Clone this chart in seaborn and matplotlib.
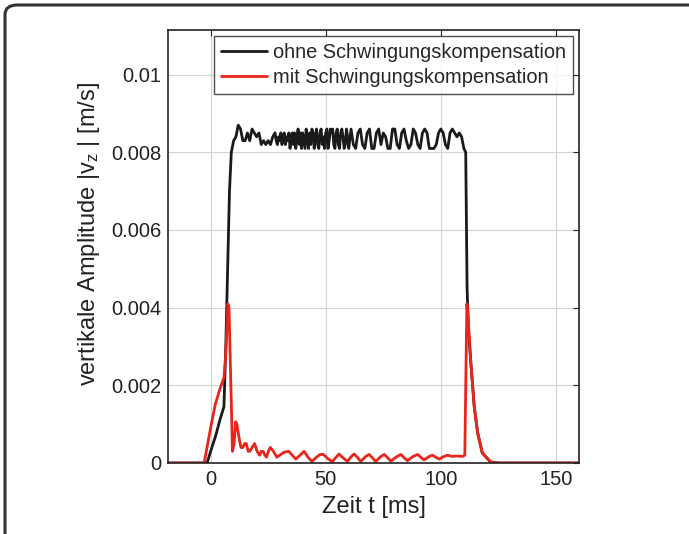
import matplotlib
matplotlib.use("Agg")
import matplotlib.pyplot as plt
import seaborn as sns
from matplotlib.patches import FancyBboxPatch

# ---- data ----
t_ohne = [-20, -1.5, 0, 2.2, 4, 5.8, 6.6, 7.4, 8.2, 9,
          10, 11, 12, 13, 14, 15, 16, 17, 18, 19, 20, 21, 22, 23, 24, 25, 26, 27,
          28, 28.5, 29, 29.5, 30, 30.5, 31, 31.5, 32, 32.5, 33, 33.5, 34, 34.5, 35, 35.5,
          36, 36.5, 37, 37.5, 38, 38.5, 39, 39.5, 40, 40.5, 41, 41.5, 42, 42.5, 43, 43.5,
          44, 44.5, 45, 45.5, 46, 46.5, 47, 47.5, 48, 48.5, 49, 49.5, 50, 50.5, 51, 51.5,
          52, 52.5, 53, 53.5, 54, 54.5, 55, 55.5, 56, 56.5, 57, 57.5, 58, 58.5, 59, 59.5, 60,
          61, 62, 63, 64, 65, 66, 67, 68, 69,
          70, 71, 72, 73, 74, 75, 76, 77, 78, 79, 80, 81, 82, 83, 84, 85, 86, 87, 88, 89,
          90, 91, 92, 93, 94, 95, 96, 97, 98, 99, 100, 101, 102, 103, 104, 105, 106, 107, 108, 109,
          110, 110.8, 111.4, 112, 113, 114.5, 116, 118, 121.5, 125, 160]
v_ohne = [0, 0, 0.0003, 0.0007, 0.0011, 0.00145, 0.0030, 0.0050, 0.0070, 0.0080,
          0.0083, 0.0084, 0.0087, 0.0086, 0.0083, 0.0083, 0.0085, 0.0083, 0.0086, 0.0085,
          0.0084, 0.0085, 0.0082, 0.0083, 0.0082, 0.0083, 0.0082, 0.0084,
          0.0085, 0.0083, 0.0082, 0.0084, 0.0083, 0.0085, 0.0082, 0.0084, 0.0085, 0.0082,
          0.0084, 0.0083, 0.0085, 0.0081, 0.0084, 0.0085, 0.0082, 0.0085, 0.0081, 0.0084,
          0.0086, 0.0082, 0.0085, 0.0081, 0.0085, 0.0083, 0.0081, 0.0086, 0.0084, 0.0081,
          0.0085, 0.0082, 0.0086, 0.0085, 0.0081, 0.0084, 0.0086, 0.0082, 0.0081, 0.0085,
          0.0086, 0.0082, 0.0084, 0.0081, 0.0085, 0.0086, 0.0081, 0.0083, 0.0086, 0.0085,
          0.0086, 0.0082, 0.0081, 0.0085, 0.0086, 0.0082, 0.0081, 0.0085, 0.0086, 0.0084,
          0.0081, 0.0082, 0.0086, 0.0084, 0.0081,
          0.0086, 0.0082, 0.0081, 0.0085, 0.0086, 0.0082, 0.0081, 0.0085, 0.0086,
          0.0081, 0.0081, 0.0085, 0.0086, 0.0082, 0.0085, 0.0084, 0.0081, 0.0081, 0.0086,
          0.0086, 0.0082, 0.0081, 0.0085, 0.0086, 0.0083, 0.0081, 0.0082, 0.0086, 0.0085,
          0.0082, 0.0081, 0.0085, 0.0086, 0.0085, 0.0081, 0.0081, 0.0081, 0.0082, 0.0085,
          0.0086, 0.0085, 0.0082, 0.0081, 0.0085, 0.0086, 0.0085, 0.0084, 0.0085, 0.0084,
          0.0081, 0.0080, 0.0045, 0.0034, 0.0026, 0.00145, 0.00077, 0.00026, 0.00003, 0, 0]

t_mit = [-20, -2.8, 0, 2, 4, 5.8, 6.6, 7.5, 8.0, 8.6, 9.5,
         10.2, 10.9, 11.4, 12.5, 13.2, 14, 14.8, 15.5, 16.3, 17, 18, 19.1, 20.2, 21.3,
         22, 22.8, 23.6, 24.3, 25.1, 25.9, 27.3, 28.8, 30, 32, 33.9, 35.5, 37, 38.8,
         40.6, 42.3, 44, 46, 47.5, 49, 50.8, 52.9, 54.5, 55.8, 57.2, 59.4, 61, 62.3,
         63.7, 65.2, 67.2, 68.8, 70.2, 71.7, 73.8, 75.4, 76.8, 78.3, 80.8, 82.6, 84,
         85.5, 88, 89.9, 91.3, 92.7, 95, 96.4, 97.8, 99.3, 101, 102.9, 105, 107, 109.5,
         110.4, 111.3, 111.8, 113, 114.5, 116, 118, 121.7, 125, 160]
v_mit = [0, 0, 0.0009, 0.0015, 0.0019, 0.0022, 0.0028, 0.0041, 0.0040, 0.0025, 0.0003,
         0.0005, 0.00106, 0.0010, 0.0006, 0.0004, 0.0004, 0.0005, 0.0005, 0.0003,
         0.0003, 0.0004, 0.0005, 0.0003, 0.0002, 0.0003, 0.0003, 0.0002, 0.00015,
         0.0003, 0.0004, 0.0003, 0.00015, 0.0002, 0.00028, 0.0003, 0.0002, 0.0001,
         0.0002, 0.0003, 0.00015, 0.00004, 0.00015, 0.00022, 0.00022, 0.00012, 0.00003,
         0.00015, 0.00023, 0.00015, 0.00004, 0.00016, 0.00023, 0.00015, 0.00004, 0.00016,
         0.00022, 0.00014, 0.00004, 0.00016, 0.00022, 0.00014, 0.00005, 0.00016, 0.00022,
         0.00014, 0.00006, 0.00017, 0.00022, 0.00015, 0.00008, 0.00017, 0.0002, 0.00015,
         0.0001, 0.00016, 0.0002, 0.00017, 0.00018, 0.00017,
         0.0002, 0.0041, 0.0038, 0.0026, 0.00145, 0.00077, 0.00026, 0.00002, 0, 0]

label_ohne = "ohne Schwingungskompensation"
label_mit = "mit Schwingungskompensation"
y_ticks = [0, 0.002, 0.004, 0.006, 0.008, 0.01]
y_ticklabels = ["0", "0.002", "0.004", "0.006", "0.008", "0.01"]
x_ticks = [0, 50, 100, 150]
x_ticklabels = ["0", "50", "100", "150"]

# ---- style ----
sns.set_style("white")
plt.rcParams["font.family"] = ["Liberation Sans", "DejaVu Sans"]
plt.rcParams["mathtext.fontset"] = "custom"
plt.rcParams["mathtext.rm"] = "Liberation Sans"
plt.rcParams["mathtext.it"] = "Liberation Sans"

fig = plt.figure(figsize=(6.89, 5.34), dpi=100)
ax = fig.add_axes([168 / 689, (534 - 463) / 534, (579 - 168) / 689, (463 - 30) / 534])

# outer rounded frame (only left/top visible in reference)
frame = FancyBboxPatch((5 / 689, -0.1), 1.2, 1.1 - 5 / 534,
                       boxstyle="round,pad=0,rounding_size=0.018",
                       transform=fig.transFigure, fill=False,
                       edgecolor="#333333", linewidth=2.2, zorder=0)
fig.patches.append(frame)

sns.lineplot(x=t_ohne, y=v_ohne, ax=ax, color="#1a1a1a", linewidth=2.0,
             label=label_ohne, sort=False, estimator=None)
sns.lineplot(x=t_mit, y=v_mit, ax=ax, color="#e8251b", linewidth=2.0,
             label=label_mit, sort=False, estimator=None)

ax.set_xlim(-18.5, 160)
ax.set_ylim(0, 0.01115)
ax.set_xticks(x_ticks)
ax.set_xticklabels(x_ticklabels)
ax.set_yticks(y_ticks)
ax.set_yticklabels(y_ticklabels)
ax.tick_params(direction="in", length=4, width=0.8, top=True, right=True,
               labelsize=14.5, colors="#222222", pad=5)
ax.grid(True, color="#d2d2d2", linestyle="-", linewidth=0.8)
for s in ax.spines.values():
    s.set_color("#222222")
    s.set_linewidth(1.2)

ax.set_xlabel("Zeit t [ms]", fontsize=17, color="#222222", labelpad=5)
ax.set_ylabel(r"vertikale Amplitude |v$_\mathregular{z}$ | [m/s]", fontsize=17,
              color="#222222", labelpad=6)
ax.yaxis.label.set_y(0.53)

leg = ax.legend(loc="upper right", fontsize=14.4, frameon=True, fancybox=False,
                handlelength=2.3, handletextpad=0.3, borderpad=0.35,
                labelspacing=0.3, borderaxespad=0.3)
leg.get_frame().set_edgecolor("#222222")
leg.get_frame().set_linewidth(1.0)

fig.savefig("out.png", dpi=100)
